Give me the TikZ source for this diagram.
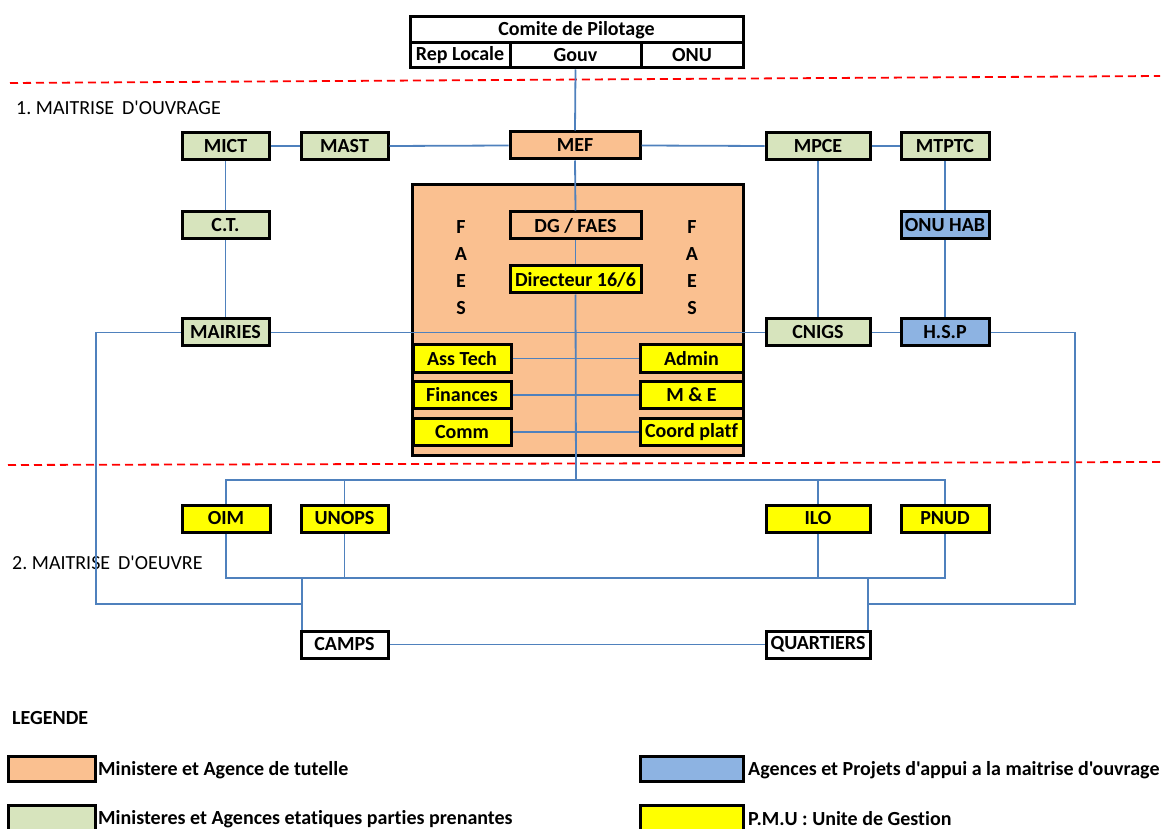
\documentclass[tikz,border=0pt]{standalone}
\usepackage{fontspec}
\setmainfont{Carlito}[Ligatures={TeXOff,NoCommon}]
\definecolor{orng}{HTML}{FAC090}
\definecolor{grn}{HTML}{D7E4BD}
\definecolor{blu}{HTML}{8DB3E2}
\definecolor{yel}{HTML}{FFFF00}
\definecolor{lineblue}{HTML}{4F81BD}
\frenchspacing
\begin{document}
\begin{tikzpicture}[x=1pt,y=-1pt,
  box/.style={draw=black, line width=3pt, inner sep=0pt, font=\fontsize{20}{21}\selectfont\bfseries, text=black, minimum height=27pt},
  conn/.style={draw=lineblue, line width=1.8pt},
  sep/.style={draw=red, line width=1.8pt, dash pattern=on 8pt off 5pt},
  lbl/.style={font=\fontsize{20}{21}\selectfont, anchor=west, inner sep=0pt},
  blbl/.style={font=\fontsize{20}{21}\selectfont\bfseries, anchor=west, inner sep=0pt},
  letter/.style={font=\fontsize{20}{21}\selectfont\bfseries, inner sep=0pt},
]
\useasboundingbox (0,0) rectangle (1163,829);

% separators
\draw[sep] (10,83) -- (1160,76);
\draw[sep] (8,465) -- (1160,462);

% comite de pilotage
\node[box, minimum width=333pt, minimum height=26pt] (cp) at (576.5,30) {Comite de Pilotage};
\node[box, minimum width=100pt, minimum height=25pt] (rl) at (460,55.5) {Rep Locale};
\node[box, minimum width=131pt, minimum height=25pt] (gv) at (575.5,55.5) {Gouv};
\node[box, minimum width=102pt, minimum height=25pt] (onu) at (692,55.5) {ONU};

% section labels
\node[lbl] (s1) at (16,108) {1. MAITRISE\, D'OUVRAGE};
\node[lbl] (s2) at (12,563) {2. MAITRISE\, D'OEUVRE};

% FAES big box
\node[box, fill=orng, minimum width=331pt, minimum height=270pt] (faes) at (577.5,320) {};
\node[letter] (f1) at (461,227) {F};
\node[letter] (a1) at (461,254) {A};
\node[letter] (e1) at (461,281) {E};
\node[letter] (s1l) at (461,308) {S};
\node[letter] (f2) at (692,227) {F};
\node[letter] (a2) at (692,254) {A};
\node[letter] (e2) at (692,281) {E};
\node[letter] (s2l) at (692,308) {S};

% top row
\node[box, fill=orng, minimum width=130pt] (mef) at (575,145.5) {MEF};
\node[box, fill=grn, minimum width=87pt] (mict) at (225.5,146) {MICT};
\node[box, fill=grn, minimum width=87pt] (mast) at (344.5,146) {MAST};
\node[box, fill=grn, minimum width=104pt] (mpce) at (818,146) {MPCE};
\node[box, fill=grn, minimum width=88pt] (mtptc) at (945,146) {MTPTC};

\node[box, fill=grn, minimum width=87pt] (ct) at (225.5,225) {C.T.};
\node[box, fill=blu, minimum width=88pt] (onuhab) at (945,225) {ONU HAB};
\node[box, fill=grn, minimum width=87pt] (mairies) at (225.5,332.5) {MAIRIES};
\node[box, fill=grn, minimum width=104pt] (cnigs) at (818,332.5) {CNIGS};
\node[box, fill=blu, minimum width=88pt] (hsp) at (945,332.5) {H.S.P};

\node[box, fill=orng, minimum width=131pt] (dg) at (575.5,225.5) {DG / FAES};
\node[box, fill=yel, minimum width=131pt] (dir) at (575.5,279.5) {Directeur 16/6};

\node[box, fill=yel, minimum width=98pt] (asst) at (462,358.5) {Ass Tech};
\node[box, fill=yel, minimum width=98pt] (fin) at (462,395) {Finances};
\node[box, fill=yel, minimum width=98pt] (comm) at (462,432) {Comm};
\node[box, fill=yel, minimum width=103pt] (admin) at (691.5,358.5) {Admin};
\node[box, fill=yel, minimum width=103pt] (me) at (691.5,395) {M \& E};
\node[box, fill=yel, minimum width=103pt] (coord) at (691.5,432) {Coord platf};

% bottom
\node[box, fill=yel, minimum width=88pt] (oim) at (226,518.5) {OIM};
\node[box, fill=yel, minimum width=87pt] (unops) at (344.5,518.5) {UNOPS};
\node[box, fill=yel, minimum width=104pt] (ilo) at (818,518.5) {ILO};
\node[box, fill=yel, minimum width=88pt] (pnud) at (945,518.5) {PNUD};
\node[box, fill=white, minimum width=87pt] (camps) at (344.5,644.5) {CAMPS};
\node[box, fill=white, minimum width=104pt] (quart) at (818,644.5) {QUARTIERS};

% coordinates
\coordinate (bustop) at (576,480);
\coordinate (busbot) at (576,578);
\coordinate (cL) at (302,578);
\coordinate (qR) at (868,578);
\coordinate (loopL) at (96,604);
\coordinate (loopR) at (1075,604);

% connectors
\draw[conn] (gv.south) -- (mef.north);
\draw[conn] (mict.east) -- (mast.west);
\draw[conn] (mast.east) -- (mef.west);
\draw[conn] (mef.east) -- (mpce.west);
\draw[conn] (mpce.east) -- (mtptc.west);
\draw[conn] (mict.south) -- (ct.north);
\draw[conn] (ct.south) -- (mairies.north);
\draw[conn] (mpce.south) -- (cnigs.north);
\draw[conn] (mtptc.south) -- (onuhab.north);
\draw[conn] (onuhab.south) -- (hsp.north);
\draw[conn] (mef.south) -- (dg.north);
\draw[conn] (dg.south) -- (dir.north);
\draw[conn] (mairies.east) -- (cnigs.west);
\draw[conn] (cnigs.east) -- (hsp.west);
\draw[conn] (asst.east) -- (admin.west);
\draw[conn] (fin.east) -- (me.west);
\draw[conn] (comm.east) -- (coord.west);
\draw[conn] (dir.south) -- (bustop);
\draw[conn] (oim.north) -- (oim.north |- bustop) -- (pnud.north |- bustop) -- (pnud.north);
\draw[conn] (unops.north) -- (unops.north |- bustop);
\draw[conn] (ilo.north) -- (ilo.north |- bustop);
\draw[conn] (oim.south) -- (oim.south |- busbot) -- (pnud.south |- busbot) -- (pnud.south);
\draw[conn] (unops.south) -- (unops.south |- busbot);
\draw[conn] (ilo.south) -- (ilo.south |- busbot);
\draw[conn] (cL) -- (cL |- camps.north);
\draw[conn] (qR) -- (qR |- quart.north);
\draw[conn] (mairies.west) -- (mairies.west -| loopL) -- (loopL) -- (loopL -| cL);
\draw[conn] (hsp.east) -- (hsp.east -| loopR) -- (loopR) -- (loopR -| qR);
\draw[conn] (camps.east) -- (quart.west);

% legend
\node[blbl] (leg) at (12,718) {LEGENDE};
\node[box, fill=orng, minimum width=87pt, minimum height=25pt] (l1) at (51.5,768.5) {};
\node[blbl] (l1t) at (98,770) {Ministere et Agence de tutelle};
\node[box, fill=grn, minimum width=87pt, minimum height=26pt] (l2) at (51.5,818) {};
\node[blbl] (l2t) at (98,819) {Ministeres et Agences etatiques parties prenantes};
\node[box, fill=blu, minimum width=103pt, minimum height=25pt] (l3) at (691.5,768.5) {};
\node[blbl] (l3t) at (748,770) {Agences et Projets d'appui a la maitrise d'ouvrage};
\node[box, fill=yel, minimum width=103pt, minimum height=26pt] (l4) at (691.5,818) {};
\node[blbl] (l4t) at (748,819) {P.M.U : Unite de Gestion};
\end{tikzpicture}
\end{document}
